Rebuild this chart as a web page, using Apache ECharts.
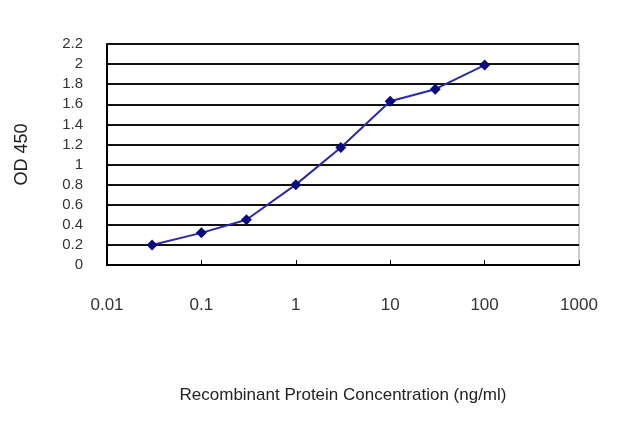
<!DOCTYPE html>
<html>
<head>
<meta charset="utf-8">
<script src="https://cdn.jsdelivr.net/npm/echarts@6/dist/echarts.min.js"></script>
<style>
    html, body { margin: 0; padding: 0; background: #fff; }
    #main { width: 640px; height: 427px; }
</style>
</head>
<body>
<div id="main"></div>
<script>
// concentration (ng/ml) vs OD 450
var concentrations = [0.03, 0.1, 0.3, 1, 3, 10, 30, 100];
var odValues = [0.2, 0.32, 0.45, 0.8, 1.17, 1.63, 1.75, 1.99];

var points = concentrations.map(function (c, i) {
    return [c, odValues[i]];
});

var chart = echarts.init(document.getElementById('main'));

chart.setOption({
    animation: false,
    grid: {
        left: 107,
        right: 61,
        top: 44,
        bottom: 162,
        show: true,
        borderColor: '#999',
        borderWidth: 1
    },
    xAxis: {
        type: 'log',
        logBase: 10,
        min: 0.01,
        max: 1000,
        name: 'Recombinant Protein Concentration (ng/ml)',
        nameLocation: 'middle',
        nameGap: 122,
        nameTextStyle: {
            fontFamily: 'Liberation Sans',
            fontSize: 17,
            color: '#222'
        },
        axisLine: { lineStyle: { color: '#000', width: 2 } },
        axisTick: { inside: true, length: 5, lineStyle: { color: '#000' } },
        axisLabel: {
            margin: 32,
            fontFamily: 'Liberation Sans',
            fontSize: 17,
            color: '#333',
            formatter: function (v) { return String(v); }
        },
        splitLine: { show: false },
        minorTick: { show: false }
    },
    yAxis: {
        type: 'value',
        min: 0,
        max: 2.2,
        interval: 0.2,
        name: 'OD 450',
        nameLocation: 'middle',
        nameGap: 76,
        nameRotate: 90,
        nameTextStyle: {
            fontFamily: 'Liberation Sans',
            fontSize: 18,
            color: '#222'
        },
        axisLine: { show: true, lineStyle: { color: '#000', width: 2 } },
        axisTick: { show: false },
        axisLabel: {
            margin: 24,
            fontFamily: 'Liberation Sans',
            fontSize: 15,
            color: '#333'
        },
        splitLine: { show: true, lineStyle: { color: '#111', width: 2 } }
    },
    series: [{
        type: 'line',
        data: points,
        symbol: 'diamond',
        symbolSize: 11,
        lineStyle: { color: '#2a2aa8', width: 2 },
        itemStyle: { color: '#0a0a80' }
    }]
});
</script>
</body>
</html>
